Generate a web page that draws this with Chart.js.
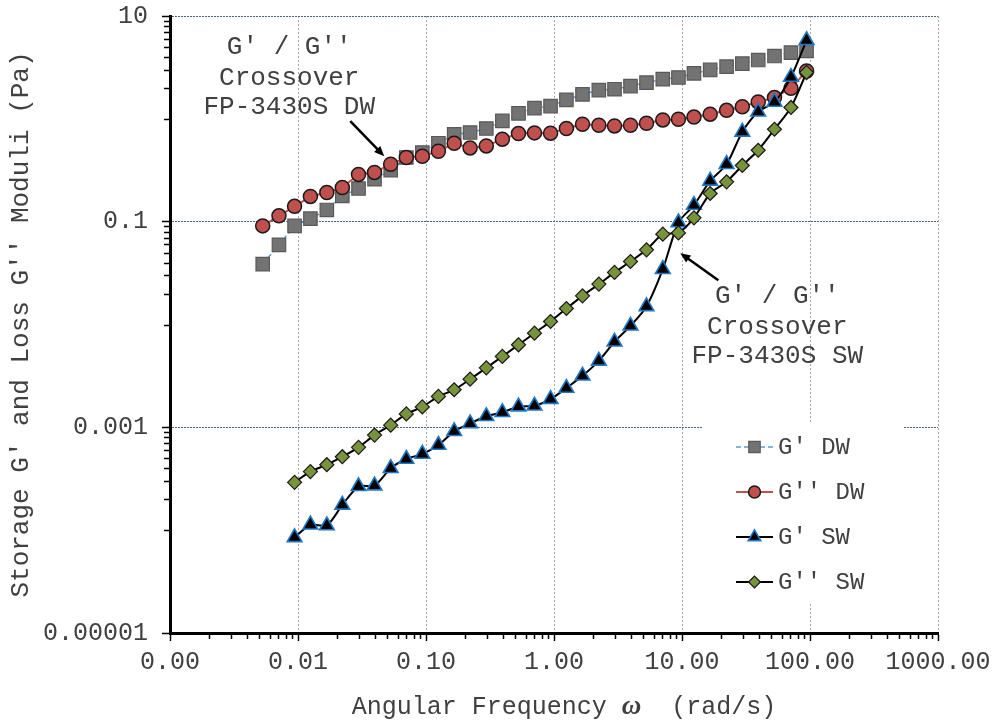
<!DOCTYPE html>
<html>
<head>
<meta charset="utf-8">
<title>Storage and loss moduli vs angular frequency</title>
<script src="https://cdn.jsdelivr.net/npm/chart.js@4.4.1/dist/chart.umd.min.js"></script>
<style>
  html, body { margin: 0; padding: 0; background: #fff; }
  #chart { display: block; }
</style>
</head>
<body>
<canvas id="chart" width="995" height="725"></canvas>
<script>
// angular frequency, rad/s
const freqDW = [0.0053, 0.0071, 0.0094, 0.0125, 0.0168, 0.0222, 0.0297, 0.0396, 0.0530, 0.0702,
                0.0936, 0.125, 0.166, 0.221, 0.296, 0.395, 0.528, 0.704, 0.940, 1.25,
                1.67, 2.24, 2.97, 3.96, 5.28, 7.08, 9.38, 12.4, 16.6, 22.3,
                29.6, 39.4, 52.8, 71.0, 94.0];
const freqSW = [0.0094, 0.0125, 0.0168, 0.0222, 0.0297, 0.0396, 0.0530, 0.0702,
                0.0936, 0.125, 0.166, 0.221, 0.296, 0.395, 0.528, 0.704, 0.940, 1.25,
                1.67, 2.24, 2.97, 3.96, 5.28, 7.08, 9.38, 12.4, 16.6, 22.3,
                29.6, 39.4, 52.8, 71.0, 94.0];

// moduli, Pa
const gPrimeDW = [0.0386, 0.0595, 0.0910, 0.107, 0.130, 0.178, 0.210, 0.259, 0.317, 0.421,
                  0.470, 0.579, 0.708, 0.736, 0.805, 0.955, 1.13, 1.27, 1.33, 1.53,
                  1.73, 1.90, 1.94, 2.08, 2.25, 2.43, 2.52, 2.77, 2.99, 3.22,
                  3.44, 3.73, 4.08, 4.41, 4.57];
const gDoublePrimeDW = [0.0910, 0.114, 0.141, 0.176, 0.192, 0.215, 0.288, 0.301, 0.362, 0.421,
                        0.433, 0.484, 0.579, 0.521, 0.545, 0.634, 0.720, 0.730, 0.725, 0.805,
                        0.886, 0.866, 0.853, 0.866, 0.906, 0.976, 0.991, 1.04, 1.11, 1.21,
                        1.31, 1.46, 1.61, 1.98, 2.92];
const gPrimeSW = [0.000085, 0.000113, 0.000111, 0.000176, 0.000267, 0.000271, 0.000400, 0.000492,
                  0.000551, 0.000673, 0.000915, 0.00109, 0.00128, 0.00140, 0.00159, 0.00162,
                  0.00188, 0.00241, 0.00317, 0.00443, 0.00679, 0.00971, 0.0150, 0.0345,
                  0.0982, 0.145, 0.249, 0.362, 0.746, 1.17, 1.46, 2.55, 5.81];
const gDoublePrimeSW = [0.000292, 0.000371, 0.000433, 0.000518, 0.000639, 0.000841, 0.00105, 0.00135,
                        0.00158, 0.00200, 0.00232, 0.00294, 0.00379, 0.00489, 0.00635, 0.00824,
                        0.0107, 0.0143, 0.0190, 0.0247, 0.0321, 0.0410, 0.0532, 0.0756,
                        0.0778, 0.109, 0.188, 0.244, 0.352, 0.495, 0.792, 1.29, 2.82];

const seriesLabels = ["G' DW", "G'' DW", "G' SW", "G'' SW"];
const xTickValues = [0.001, 0.01, 0.1, 1, 10, 100, 1000];
const yTickValues = [0.00001, 0.001, 0.1, 10];

const xTitle = ["Angular Frequency ", "\u03C9", "  (rad/s)"];
const yTitle = "Storage G' and Loss G'' Moduli (Pa)";

// crossover callouts: arrow tip in data space, everything else in px from the tip
const callouts = [
  { lines: ["G' / G''", "Crossover", "FP-3430S DW"], tip: { x: 0.0472, y: 0.433 },
    tail: [-34, -35], textX: -95, textY: [-109, -78, -49] },
  { lines: ["G' / G''", "Crossover", "FP-3430S SW"], tip: { x: 9.70, y: 0.0494 },
    tail: [38, 27], textX: 97, textY: [43, 74, 103] }
];

const MONO = "'Liberation Mono', 'Courier New', monospace";
const TEXT = "#404040";

function pairs(xs, ys) {
  return xs.map((x, i) => ({ x, y: ys[i] }));
}

const datasets = [
  {
    label: seriesLabels[0],
    data: pairs(freqDW, gPrimeDW),
    borderColor: "#5b9bd5",
    borderWidth: 1.5,
    borderDash: [5, 3],
    pointStyle: "rect",
    pointRadius: 9.5,
    pointBackgroundColor: "#737373",
    pointBorderColor: "#595959",
    pointBorderWidth: 1.2,
    order: 4
  },
  {
    label: seriesLabels[1],
    data: pairs(freqDW, gDoublePrimeDW),
    borderColor: "#c0504d",
    borderWidth: 2,
    pointStyle: "circle",
    pointRadius: 7,
    pointBackgroundColor: "#c0504d",
    pointBorderColor: "#1a1a1a",
    pointBorderWidth: 1.5,
    order: 3
  },
  {
    label: seriesLabels[2],
    data: pairs(freqSW, gPrimeSW),
    borderColor: "#000",
    borderWidth: 2,
    tension: 0.25,
    pointStyle: "triangle",
    pointRadius: 8.5,
    pointBackgroundColor: "#000",
    pointBorderColor: "#1f78c8",
    pointBorderWidth: 1.6,
    order: 2
  },
  {
    label: seriesLabels[3],
    data: pairs(freqSW, gDoublePrimeSW),
    borderColor: "#000",
    borderWidth: 2,
    tension: 0.25,
    pointStyle: "rectRot",
    pointRadius: 7,
    pointBackgroundColor: "#77933c",
    pointBorderColor: "#1a1a1a",
    pointBorderWidth: 1.2,
    order: 1
  }
];

// minor tick marks, legend box, callouts and the x title
const extras = {
  id: "extras",
  afterDraw(chart) {
    const { ctx, chartArea: a, scales: { x, y } } = chart;
    ctx.save();

    // minor ticks
    ctx.strokeStyle = "#000";
    ctx.lineWidth = 1.5;
    ctx.beginPath();
    for (let d = -3; d < 3; d++) {
      for (let m = 2; m <= 9; m++) {
        const px = Math.round(x.getPixelForValue(m * Math.pow(10, d))) + 0.5;
        ctx.moveTo(px, a.bottom);
        ctx.lineTo(px, a.bottom + 6);
      }
    }
    for (let i = 1; i < yTickValues.length; i++) {
      const upper = yTickValues[i];
      for (let m = 1; m <= 9; m++) {
        const py = Math.round(y.getPixelForValue(m * upper / 10)) + 0.5;
        ctx.moveTo(a.left - 6, py);
        ctx.lineTo(a.left, py);
      }
    }
    ctx.stroke();

    // legend
    const box = { left: 702, top: 424, right: 904, bottom: 603 };
    ctx.fillStyle = "#fff";
    ctx.fillRect(box.left, box.top, box.right - box.left, box.bottom - box.top);
    chart.data.datasets.forEach((ds, i) => {
      const cy = box.top + 23 + i * 45;
      const x0 = box.left + 34, x1 = box.left + 71;
      ctx.save();
      ctx.strokeStyle = ds.borderColor;
      ctx.lineWidth = ds.borderWidth;
      ctx.setLineDash(ds.borderDash || []);
      ctx.beginPath();
      ctx.moveTo(x0, cy);
      ctx.lineTo(x1, cy);
      ctx.stroke();
      ctx.restore();
      ctx.fillStyle = ds.pointBackgroundColor;
      ctx.strokeStyle = ds.pointBorderColor;
      ctx.lineWidth = ds.pointBorderWidth;
      Chart.helpers.drawPoint(ctx, {
        pointStyle: ds.pointStyle,
        radius: ds.pointRadius * 0.85,
        borderWidth: ds.pointBorderWidth,
        rotation: 0
      }, (x0 + x1) / 2, cy);
      ctx.fillStyle = TEXT;
      ctx.font = "24px " + MONO;
      ctx.textAlign = "left";
      ctx.textBaseline = "middle";
      ctx.fillText(ds.label, x1 + 5, cy + 1);
    });

    // crossover callouts
    callouts.forEach(c => {
      const tx = x.getPixelForValue(c.tip.x);
      const ty = y.getPixelForValue(c.tip.y);
      const sx = tx + c.tail[0], sy = ty + c.tail[1];
      const ang = Math.atan2(ty - sy, tx - sx);
      const head = 11;
      ctx.strokeStyle = "#000";
      ctx.fillStyle = "#000";
      ctx.lineWidth = 2.5;
      ctx.beginPath();
      ctx.moveTo(sx, sy);
      ctx.lineTo(tx - Math.cos(ang) * head * 0.8, ty - Math.sin(ang) * head * 0.8);
      ctx.stroke();
      ctx.beginPath();
      ctx.moveTo(tx, ty);
      ctx.lineTo(tx - Math.cos(ang - 0.4) * head, ty - Math.sin(ang - 0.4) * head);
      ctx.lineTo(tx - Math.cos(ang + 0.4) * head, ty - Math.sin(ang + 0.4) * head);
      ctx.closePath();
      ctx.fill();

      ctx.fillStyle = TEXT;
      ctx.font = "26px " + MONO;
      ctx.textAlign = "center";
      ctx.textBaseline = "middle";
      c.lines.forEach((t, i) => ctx.fillText(t, tx + c.textX, ty + c.textY[i]));
    });

    // x title with an italic omega
    const fonts = ["25px " + MONO, "italic bold 27px 'Liberation Serif', serif", "25px " + MONO];
    let total = 0;
    const widths = xTitle.map((t, i) => {
      ctx.font = fonts[i];
      const w = ctx.measureText(t).width;
      total += w;
      return w;
    });
    let cx = (a.left + a.right) / 2 + 10 - total / 2;
    ctx.fillStyle = TEXT;
    ctx.textAlign = "left";
    ctx.textBaseline = "middle";
    xTitle.forEach((t, i) => {
      ctx.font = fonts[i];
      ctx.fillText(t, cx, 707);
      cx += widths[i];
    });

    ctx.restore();
  }
};

new Chart(document.getElementById("chart"), {
  type: "line",
  data: { datasets },
  options: {
    responsive: false,
    animation: false,
    events: [],
    layout: { padding: { top: 16, right: 57, left: 0, bottom: 0 } },
    plugins: {
      legend: { display: false },
      tooltip: { enabled: false }
    },
    scales: {
      x: {
        type: "logarithmic",
        min: 0.001,
        max: 1000,
        afterBuildTicks: s => { s.ticks = xTickValues.map(v => ({ value: v })); },
        afterFit: s => { s.height = 92; s.paddingLeft = 0; s.paddingRight = 0; },
        ticks: {
          autoSkip: false,
          maxRotation: 0,
          padding: 6,
          color: TEXT,
          font: { family: MONO, size: 25 },
          callback: v => Number(v).toFixed(2)
        },
        grid: {
          color: "#a6a6a6",
          lineWidth: 1,
          tickColor: "#000",
          tickWidth: 1.5,
          tickLength: 8,
          tickBorderDash: []
        },
        border: { display: true, color: "#000", width: 3, dash: [2, 2] }
      },
      y: {
        type: "logarithmic",
        min: 0.00001,
        max: 10,
        afterBuildTicks: s => { s.ticks = yTickValues.map(v => ({ value: v })); },
        afterFit: s => { s.width = 170; s.paddingTop = 0; s.paddingBottom = 0; },
        ticks: {
          autoSkip: false,
          padding: 14,
          color: TEXT,
          font: { family: MONO, size: 25 },
          callback: v => String(v)
        },
        grid: {
          color: "#4a6283",
          lineWidth: 1,
          tickColor: "#000",
          tickWidth: 1.5,
          tickLength: 8,
          tickBorderDash: []
        },
        border: { display: true, color: "#000", width: 3, dash: [2, 1] },
        title: {
          display: true,
          text: yTitle,
          color: TEXT,
          font: { family: MONO, size: 26 },
          padding: { top: 6, bottom: 0 }
        }
      }
    }
  },
  plugins: [extras]
});
</script>
</body>
</html>
